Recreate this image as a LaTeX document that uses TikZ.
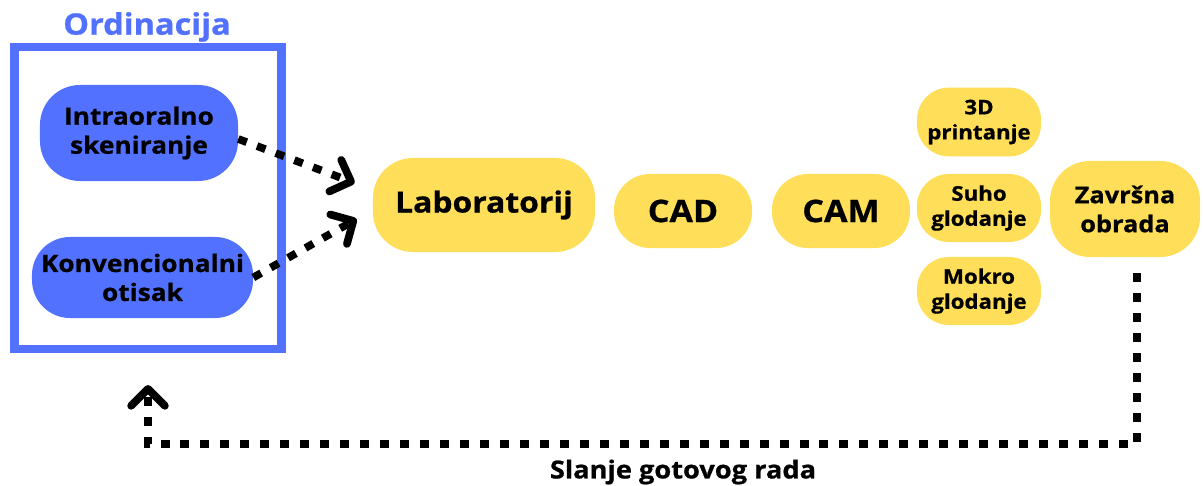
\documentclass[tikz,border=0pt]{standalone}
\usepackage{fontspec}
\setmainfont{Open Sans}[FakeStretch=1.1, BoldFeatures={FakeBold=0.8}]
\usetikzlibrary{arrows.meta,positioning}

\definecolor{ordblue}{HTML}{5271FF}
\definecolor{labyellow}{HTML}{FFDE59}

\begin{document}
\begin{tikzpicture}[x=0.025cm,y=-0.025cm]

\tikzset{blueblock/.style={fill=ordblue, align=center, inner sep=0pt,
  font=\bfseries\fontsize{17}{20.6}\selectfont},
yellowblock/.style={fill=labyellow, align=center, inner sep=0pt},
bigtext/.style={font=\bfseries\fontsize{22}{26}\selectfont},
midtext/.style={font=\bfseries\fontsize{16.4}{20.6}\selectfont},
smalltext/.style={font=\bfseries\fontsize{14.4}{17.8}\selectfont},
%dotted connector with open chevron tip
flow/.style={line width=5.5pt, dash pattern=on 6.4pt off 7.8pt,
  -{Straight Barb[length=12pt,width=24pt,round]}}}

\useasboundingbox (0,0) rectangle (1203,486);

% ordinacija
\node[draw=ordblue, line width=6pt, minimum width=6.675cm, minimum height=7.54cm] (ord) at (148,198) {};
\node[text=ordblue, font=\bfseries\fontsize{21}{24}\selectfont] (title) at (147,27) {Ordinacija};

\node[blueblock, rounded corners=1cm, minimum width=4.95cm, minimum height=2.4cm] (intra) at (139,133) {Intraoralno\\skeniranje};
\node[blueblock, rounded corners=0.95cm, minimum width=5.525cm, minimum height=2.025cm] (konv) at (142.5,277.5) {Konvencionalni\\otisak};

% laboratorij
\node[yellowblock, font=\bfseries\fontsize{20.6}{24}\selectfont, rounded corners=1cm, minimum width=5.55cm, minimum height=2.35cm] (lab) at (484,205) {Laboratorij};
\node[yellowblock, bigtext, rounded corners=0.9cm, minimum width=3.45cm, minimum height=1.85cm] (cad) at (683,211) {CAD};
\node[yellowblock, bigtext, rounded corners=0.9cm, minimum width=3.45cm, minimum height=1.85cm] (cam) at (841,211) {CAM};

\node[yellowblock, smalltext, rounded corners=0.8cm, minimum width=3.1cm, minimum height=1.72cm] (print) at (979,122) {3D\\printanje};
\node[yellowblock, smalltext, rounded corners=0.8cm, minimum width=3.1cm, minimum height=1.7cm] (suho) at (979,208) {Suho\\glodanje};
\node[yellowblock, smalltext, rounded corners=0.8cm, minimum width=3.1cm, minimum height=1.7cm] (mokro) at (979,291) {Mokro\\glodanje};

\node[yellowblock, midtext, rounded corners=1cm, minimum width=3.75cm, minimum height=2.4cm] (zav) at (1125,209) {Završna\\obrada};

% connectors
\draw[flow] ([yshift=-0.15cm]intra.east) -- ([xshift=-0.45cm,yshift=0.55cm]lab.west);
\draw[flow] (konv.east) -- ([xshift=-0.4cm,yshift=-0.35cm]lab.west);

\coordinate (turn) at (148,444);
\draw[flow] ([xshift=0.3cm,yshift=-0.4cm]zav.south) |- (turn) -- ([yshift=-0.8cm]ord.south);
\node[font=\bfseries\fontsize{17.6}{20}\selectfont] (send) at (683,472) {Slanje gotovog rada};

\end{tikzpicture}
\end{document}
